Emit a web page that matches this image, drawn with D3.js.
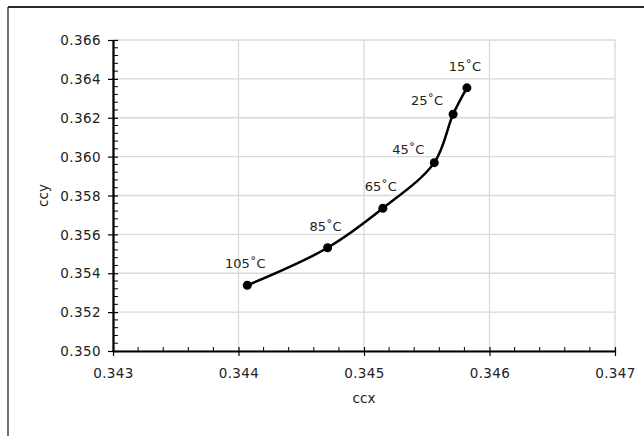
<!DOCTYPE html>
<html><head><meta charset="utf-8">
<script src="https://cdn.jsdelivr.net/npm/d3@7"></script>
<style>
html,body{margin:0;padding:0;background:#fff;}
svg{display:block;}
text{font-family:"DejaVu Sans",sans-serif;fill:#222;}
</style></head>
<body>
<svg id="c" width="644" height="436"></svg>
<script>
const labels = ["15˚C","25˚C","45˚C","65˚C","85˚C","105˚C"];
const ccx = [0.34582,0.34571,0.34556,0.34515,0.34471,0.34407];
const ccy = [0.36354,0.36218,0.35969,0.35734,0.35531,0.35338];
const labelSide = ["above","left","left","above","above","above"];
const xTicks = [0.343,0.344,0.345,0.346,0.347];
const yTicks = [0.350,0.352,0.354,0.356,0.358,0.360,0.362,0.364,0.366];

const svg = d3.select("#c");
const W=644,H=436;
// frame
svg.append("line").attr("x1",8).attr("x2",W).attr("y1",7).attr("y2",7).attr("stroke","#2a2a2a").attr("stroke-width",2);
svg.append("line").attr("x1",8).attr("x2",8).attr("y1",7).attr("y2",H).attr("stroke","#111").attr("stroke-width",1.2);

const L=113,R=615,T=40,B=351;
const x = d3.scaleLinear().domain([0.343,0.347]).range([L,R]);
const y = d3.scaleLinear().domain([0.350,0.366]).range([B,T]);

// gridlines
svg.append("g").selectAll("line").data(yTicks).join("line")
  .attr("x1",L).attr("x2",R).attr("y1",d=>y(d)).attr("y2",d=>y(d))
  .attr("stroke","#d9d9d9").attr("stroke-width",1.3);
svg.append("g").selectAll("line").data(xTicks).join("line")
  .attr("y1",T).attr("y2",B).attr("x1",d=>x(d)).attr("x2",d=>x(d))
  .attr("stroke","#d9d9d9").attr("stroke-width",1.3);

// minor ticks
const xMinor = d3.range(0,21).map(i=>0.343+i*0.0002).filter((d,i)=>i%5!==0);
const yMinor = d3.range(0,41).map(i=>0.350+i*0.0004).filter((d,i)=>i%5!==0);
svg.append("g").selectAll("line").data(xMinor).join("line")
  .attr("x1",d=>x(d)).attr("x2",d=>x(d)).attr("y1",B).attr("y2",B-4)
  .attr("stroke","#000").attr("stroke-width",1);
svg.append("g").selectAll("line").data(yMinor).join("line")
  .attr("y1",d=>y(d)).attr("y2",d=>y(d)).attr("x1",L).attr("x2",L+5)
  .attr("stroke","#000").attr("stroke-width",1);

// axes
const xa = svg.append("g").attr("transform",`translate(0,${B})`)
  .call(d3.axisBottom(x).tickValues(xTicks).tickFormat(d3.format(".3f")).tickSize(4).tickSizeOuter(0));
const ya = svg.append("g").attr("transform",`translate(${L},0)`)
  .call(d3.axisLeft(y).tickValues(yTicks).tickFormat(d3.format(".3f")).tickSize(4).tickSizeOuter(0));
[xa,ya].forEach(a=>{
  a.select(".domain").attr("stroke","#000").attr("stroke-width",2.2);
  a.selectAll(".tick line").attr("stroke","#000").attr("stroke-width",1.2);
  a.selectAll(".tick text").attr("font-family","DejaVu Sans").attr("font-size",13.5)
    .attr("letter-spacing","0.4px").attr("fill","#222");
});
// major ticks cross the axis
xa.selectAll(".tick line").attr("y1",-4).attr("y2",5);
ya.selectAll(".tick line").attr("x1",5).attr("x2",-5);
xa.selectAll(".tick text").attr("dy","0").attr("y",27);
ya.selectAll(".tick text").attr("x",-12).attr("dy","0.35em");

// axis titles
svg.append("text").attr("x",(L+R)/2).attr("y",403).attr("text-anchor","middle").attr("font-size",13.5).text("ccx");
svg.append("text").attr("transform",`translate(48,${(T+B)/2}) rotate(-90)`).attr("text-anchor","middle").attr("font-size",13.5).text("ccy");

// data
const pts = labels.map((l,i)=>({l,x:ccx[i],y:ccy[i],side:labelSide[i]}));
const line = d3.line().x(d=>x(d.x)).y(d=>y(d.y)).curve(d3.curveCatmullRom.alpha(0.5));
svg.append("path").datum(pts).attr("d",line).attr("fill","none").attr("stroke","#000").attr("stroke-width",2.5);
svg.append("g").selectAll("circle").data(pts).join("circle")
  .attr("cx",d=>x(d.x)).attr("cy",d=>y(d.y)).attr("r",4.5).attr("fill","#000");
svg.append("g").selectAll("text").data(pts).join("text")
  .attr("x",d=>x(d.x)+(d.side==="left"?-26:-2))
  .attr("y",d=>y(d.y)+(d.side==="left"?-9:-17))
  .attr("text-anchor","middle").attr("font-size",13).text(d=>d.l);
</script>
</body></html>
